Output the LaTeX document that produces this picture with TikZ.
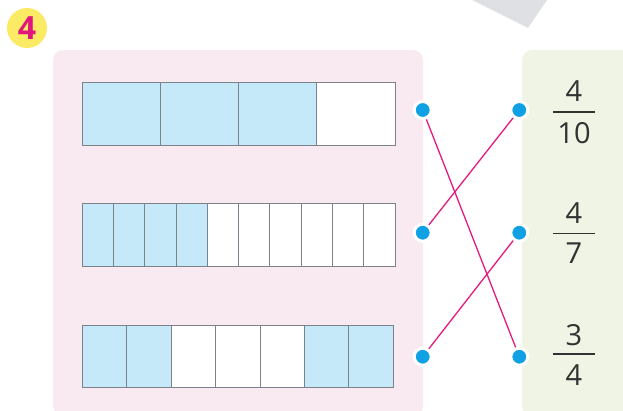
\documentclass[tikz,border=0pt]{standalone}
\usepackage{fontspec}
\setmainfont{Open Sans}
\definecolor{pinkbg}{RGB}{249,234,242}
\definecolor{greenbg}{RGB}{240,244,228}
\definecolor{cellblue}{RGB}{197,233,249}
\definecolor{cellline}{RGB}{125,130,138}
\definecolor{dotblue}{RGB}{16,160,228}
\definecolor{linkmag}{RGB}{228,26,126}
\definecolor{badgey}{RGB}{250,234,100}
\definecolor{badgem}{RGB}{226,20,125}
\definecolor{graypage}{RGB}{222,224,228}
\definecolor{digit}{RGB}{50,50,50}
\tikzset{
  dot/.style={circle, fill=dotblue, draw=white, line width=3pt, minimum size=17pt, inner sep=0pt},
  link/.style={draw=linkmag, line width=1.3pt},
  fracdigit/.style={font=\fontsize{29}{29}\selectfont, text=digit, inner sep=0pt, anchor=base},
  fracbar/.style={draw=digit, line width=1.6pt},
  cellfill/.style={draw=cellline, line width=1pt},
}
\begin{document}
\begin{tikzpicture}[x=1pt,y=-1pt]
\useasboundingbox (0,0) rectangle (623,410);
% gray page corner
\fill[graypage] (472,0) -- (528,28) -- (547,0) -- cycle;
% panels
\fill[pinkbg, rounded corners=10pt] (53,50) rectangle (423,416);
\fill[greenbg, rounded corners=10pt] (522,50) rectangle (640,416);
% badge
\node[circle, fill=badgey, minimum size=40pt, inner sep=0pt] (badge) at (27,28) {};
\node[font=\bfseries\fontsize{32}{32}\selectfont, text=badgem, inner sep=0pt] (badgenum) at (27,28) {4};
% bar 1: 4 cells, 3 shaded
\foreach \i in {0,...,3}{
  \pgfmathsetmacro{\xa}{82.3+\i*78.175}
  \pgfmathsetmacro{\xb}{82.3+(\i+1)*78.175}
  \ifnum\i<3 \def\fc{cellblue}\else\def\fc{white}\fi
  \filldraw[cellfill, fill=\fc] (\xa,82.3) rectangle (\xb,145);
}
% bar 2: 10 cells, 4 shaded
\foreach \i in {0,...,9}{
  \pgfmathsetmacro{\xa}{82.3+\i*31.27}
  \pgfmathsetmacro{\xb}{82.3+(\i+1)*31.27}
  \ifnum\i<4 \def\fc{cellblue}\else\def\fc{white}\fi
  \filldraw[cellfill, fill=\fc] (\xa,203.3) rectangle (\xb,266.7);
}
% bar 3: 7 cells, cells 1,2,6,7 shaded
\foreach \i/\fc in {0/cellblue,1/cellblue,2/white,3/white,4/white,5/cellblue,6/cellblue}{
  \pgfmathsetmacro{\xa}{82.3+\i*44.43}
  \pgfmathsetmacro{\xb}{82.3+(\i+1)*44.43}
  \filldraw[cellfill, fill=\fc] (\xa,325) rectangle (\xb,387.7);
}
% fractions
\node[fracdigit] (n1) at (574,101.5) {4};
\draw[fracbar] (553,111.7) -- (595,111.7);
\node[fracdigit] (d1) at (574,143) {10};
\node[fracdigit] (n2) at (574,223.3) {4};
\draw[fracbar] (553,233.3) -- (595,233.3);
\node[fracdigit] (d2) at (574,263.3) {7};
\node[fracdigit] (n3) at (574,345) {3};
\draw[fracbar] (553,354) -- (595,354);
\node[fracdigit] (d3) at (574,385) {4};
% dots
\node[dot] (L1) at (422.7,110) {};
\node[dot] (L2) at (422.7,232.7) {};
\node[dot] (L3) at (422.7,356.7) {};
\node[dot] (R1) at (519.3,110) {};
\node[dot] (R2) at (519.3,232.7) {};
\node[dot] (R3) at (519.3,356.7) {};
% links
\draw[link] (L1) -- (R3);
\draw[link] (L2) -- (R1);
\draw[link] (L3) -- (R2);
\end{tikzpicture}
\end{document}
